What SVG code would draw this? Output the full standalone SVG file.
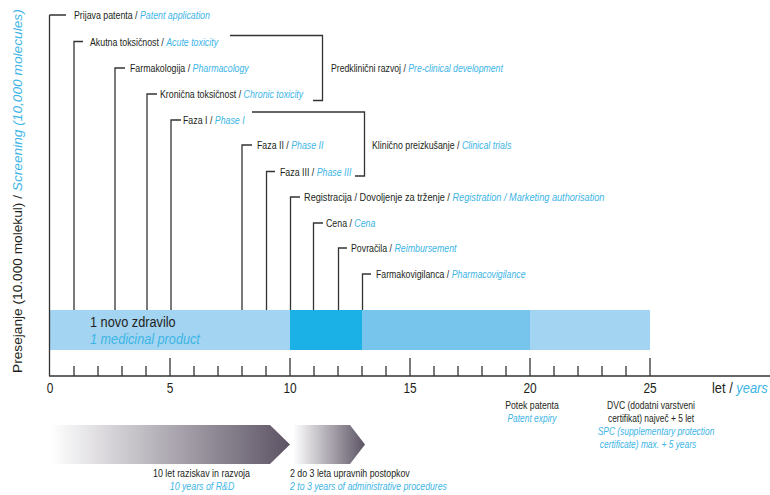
<svg xmlns="http://www.w3.org/2000/svg" width="770" height="495" viewBox="0 0 770 495">
<style>
text{font-family:"Liberation Sans",Arial,sans-serif;fill:#231f20;}
.t{font-size:11px;}
.b{fill:#3db5e6;font-style:italic;}
.ln{fill:none;stroke:#333;stroke-width:1.3;}
.ax{font-size:14px;text-anchor:middle;}
.s{font-size:10.5px;text-anchor:middle;}
</style>
<defs>
<linearGradient id="g" x1="0" y1="0" x2="1" y2="0">
<stop offset="0" stop-color="#ffffff"/>
<stop offset="1" stop-color="#5c5364"/>
</linearGradient>
</defs>
<rect width="770" height="495" fill="#ffffff"/>
<g id="bar">
<rect x="49.5" y="310" width="241" height="40" fill="#a3d4f1"/>
<rect x="290" y="310" width="72" height="40" fill="#1bb0e6"/>
<rect x="362" y="310" width="168" height="40" fill="#77c4ed"/>
<rect x="530" y="310" width="120" height="40" fill="#a3d4f1"/>
<text transform="translate(90 327) scale(.85 1)" style="font-size:15px">1 novo zdravilo</text>
<text transform="translate(90 344) scale(.845 1)" class="b" style="font-size:15px">1 medicinal product</text>
</g>
<g id="connectors">
<path class="ln" d="M49.5 15H66M49.5 15V376"/>
<path class="ln" d="M74 310V41.5H83"/>
<path class="ln" d="M115 310V68H125"/>
<path class="ln" d="M147 310V94H157"/>
<path class="ln" d="M171 310V120H181"/>
<path class="ln" d="M242 310V145H252"/>
<path class="ln" d="M266.5 310V171.5H275"/>
<path class="ln" d="M290.5 310V197H300"/>
<path class="ln" d="M313.5 310V223H323"/>
<path class="ln" d="M338.5 310V248H347"/>
<path class="ln" d="M362.5 310V274H371"/>
<path class="ln" d="M230 35.5H322.5V100.5H313"/>
<path class="ln" d="M252 112H364.5V176H355"/>
</g>
<g id="labels">
<text id="n-prijava" class="t" transform="translate(74 19) scale(.8 1)">Prijava patenta / <tspan class="b">Patent application</tspan></text>
<text id="n-akutna" class="t" transform="translate(90 45.5) scale(.8 1)">Akutna toksičnost / <tspan class="b">Acute toxicity</tspan></text>
<text id="n-farmakologija" class="t" transform="translate(130 72) scale(.8 1)">Farmakologija / <tspan class="b">Pharmacology</tspan></text>
<text id="n-kronicna" class="t" transform="translate(160 98) scale(.8 1)">Kronična toksičnost / <tspan class="b">Chronic toxicity</tspan></text>
<text id="n-faza1" class="t" transform="translate(183 124) scale(.8 1)">Faza I / <tspan class="b">Phase I</tspan></text>
<text id="n-faza2" class="t" transform="translate(257 149) scale(.8 1)">Faza II / <tspan class="b">Phase II</tspan></text>
<text id="n-faza3" class="t" transform="translate(280 175.5) scale(.8 1)">Faza III / <tspan class="b">Phase III</tspan></text>
<text id="n-registracija" class="t" transform="translate(304 201) scale(.835 1)">Registracija / Dovoljenje za trženje / <tspan class="b">Registration / Marketing authorisation</tspan></text>
<text id="n-cena" class="t" transform="translate(326 227) scale(.8 1)">Cena / <tspan class="b">Cena</tspan></text>
<text id="n-povracila" class="t" transform="translate(351 252) scale(.8 1)">Povračila / <tspan class="b">Reimbursement</tspan></text>
<text id="n-farmakovigilanca" class="t" transform="translate(376 278) scale(.795 1)">Farmakovigilanca / <tspan class="b">Pharmacovigilance</tspan></text>
<text id="n-predklinicni" class="t" transform="translate(331 72) scale(.79 1)">Predklinični razvoj / <tspan class="b">Pre-clinical development</tspan></text>
<text id="n-klinicno" class="t" transform="translate(372 149) scale(.8 1)">Klinično preizkušanje / <tspan class="b">Clinical trials</tspan></text>
</g>
<g id="axis">
<path class="ln" d="M49 376H770"/>
<path class="ln" d="M170 358V376M290 358V376M410 358V376M530 358V376M650 358V376"/>
<path class="ln" d="M74 366V376M98 366V376M122 366V376M146 366V376M194 366V376M218 366V376M242 366V376M266 366V376M314 366V376M338 366V376M362 366V376M386 366V376M434 366V376M458 366V376M482 366V376M506 366V376M554 366V376M578 366V376M602 366V376M626 366V376"/>
<text class="ax" transform="translate(50 393) scale(.85 1)">0</text>
<text class="ax" transform="translate(170 393) scale(.85 1)">5</text>
<text class="ax" transform="translate(290 393) scale(.85 1)">10</text>
<text class="ax" transform="translate(410 393) scale(.85 1)">15</text>
<text class="ax" transform="translate(530 393) scale(.85 1)">20</text>
<text class="ax" transform="translate(650 393) scale(.85 1)">25</text>
<text transform="translate(712 393) scale(.92 1)" style="font-size:14px">let / <tspan class="b">years</tspan></text>
<text transform="translate(22 373) rotate(-90)" style="font-size:13.7px">Presejanje (10.000 molekul) / <tspan class="b">Screening (10,000 molecules)</tspan></text>
</g>
<g id="notes">
<text class="s" transform="translate(532 409) scale(.83 1)">Potek patenta</text>
<text class="s b" transform="translate(532 422) scale(.8 1)">Patent expiry</text>
<text class="s" transform="translate(651 409) scale(.815 1)">DVC (dodatni varstveni</text>
<text class="s" transform="translate(651 422) scale(.8 1)">certifikat) največ + 5 let</text>
<text class="s b" transform="translate(656 435) scale(.8 1)">SPC (supplementary protection</text>
<text class="s b" transform="translate(648 448) scale(.8 1)">certificate) max. + 5 years</text>
</g>
<g id="arrow-rd">
<path d="M51 425H270L290 444.5L270 464H51Z" fill="url(#g)"/>
<text class="t" transform="translate(153 477) scale(.806 1)">10 let raziskav in razvoja</text>
<text class="t b" text-anchor="middle" transform="translate(202 490) scale(.8 1)">10 years of R&amp;D</text>
</g>
<g id="arrow-admin">
<path d="M293 425H350L365 444.5L350 464H293Z" fill="url(#g)"/>
<text class="t" transform="translate(290 477) scale(.8 1)">2 do 3 leta upravnih postopkov</text>
<text class="t b" transform="translate(290 490) scale(.79 1)">2 to 3 years of administrative procedures</text>
</g>
</svg>
